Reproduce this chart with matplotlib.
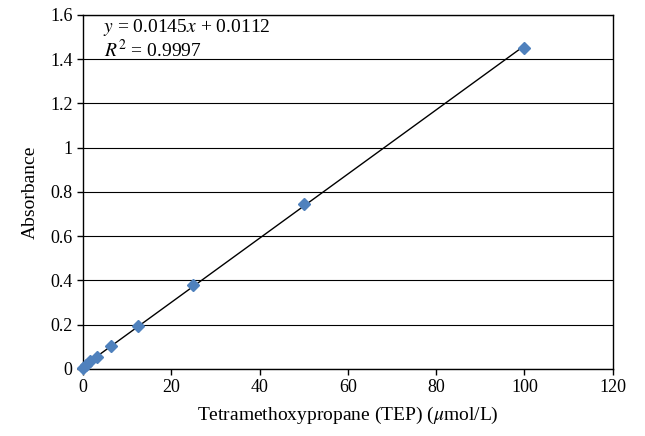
import numpy as np
import matplotlib.pyplot as plt

plt.rcParams['font.family'] = ['Liberation Serif', 'DejaVu Serif']
plt.rcParams['mathtext.fontset'] = 'stix'

# TEP standard curve
conc = [0, 0.78, 1.56, 3.125, 6.25, 12.5, 25, 50, 100]
absorb = [0.005, 0.02, 0.035, 0.055, 0.105, 0.195, 0.38, 0.745, 1.45]
slope, intercept = 0.0145, 0.0112

fig = plt.figure(figsize=(6.45, 4.36), dpi=100)
ax = fig.add_axes([0.1287, 0.1537, 0.8213, 0.8119])

xs = np.array([min(conc), max(conc)])
ax.plot(xs, slope * xs + intercept, color='black', lw=1, zorder=2)
ax.plot(conc, absorb, ls='none', marker='D', ms=6, color='#4F81BD', zorder=3,
        clip_on=False)

ax.set_xlim(0, 120)
ax.set_ylim(0, 1.6)
ax.set_xticks(np.arange(0, 121, 20))
ax.set_yticks(np.arange(0, 1.61, 0.2))
ax.set_yticklabels(['0', '0.2', '0.4', '0.6', '0.8', '1', '1.2', '1.4', '1.6'])
ax.yaxis.grid(True, color='black', lw=0.8)
ax.set_axisbelow(True)
ax.tick_params(direction='out', length=4, width=1, labelsize=13, colors='black')
for s in ax.spines.values():
    s.set_linewidth(1)

ax.set_xlabel('Tetramethoxypropane (TEP) ($\\mu$mol/L)', fontsize=14, labelpad=6)
ax.set_ylabel('Absorbance', fontsize=14, labelpad=8)

ax.text(0.038, 0.995, '$y$ = 0.0145$x$ + 0.0112', transform=ax.transAxes,
        fontsize=14, va='top', ha='left')
ax.text(0.04, 0.932, '$R^2$ = 0.9997', transform=ax.transAxes,
        fontsize=14, va='top', ha='left')

fig.savefig('out.png', dpi=100)
